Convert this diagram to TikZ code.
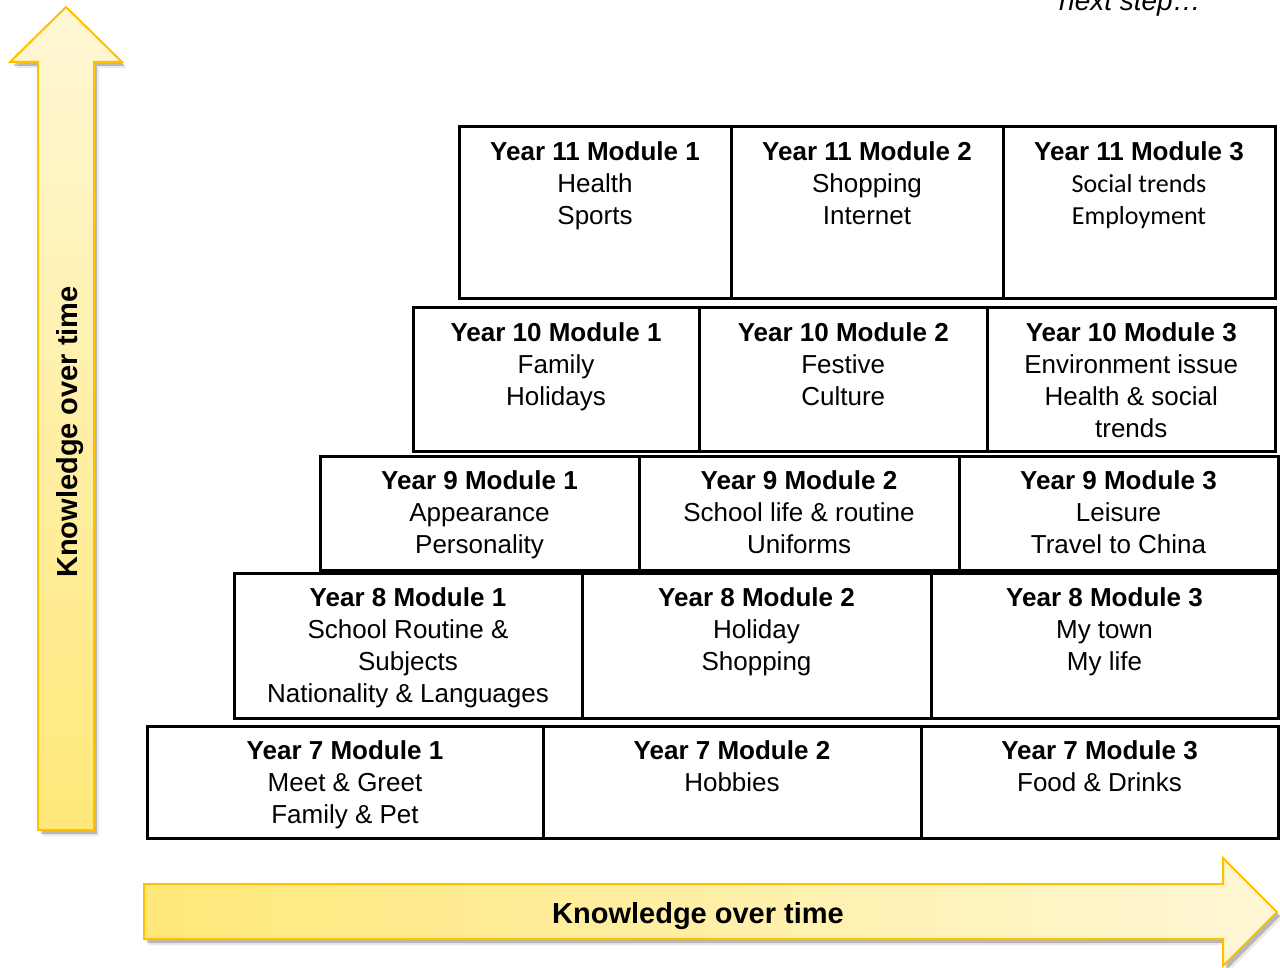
\documentclass[tikz,border=0pt]{standalone}
\usepackage{fontspec}
\setmainfont{Liberation Sans}
\newfontfamily\calib{Carlito}
\usetikzlibrary{positioning}
\definecolor{arrowedge}{HTML}{FFC000}
\definecolor{arrowdark}{HTML}{FFE878}
\definecolor{arrowlight}{HTML}{FFF7D6}
\newcommand{\ttl}[1]{\rule{0pt}{24pt}\textbf{#1}}
\begin{document}
\begin{tikzpicture}[x=1pt,y=-1pt,
  cell/.style={draw=black, line width=3pt, rectangle, inner sep=0pt, anchor=north west},
  txt/.style={inner sep=0pt, align=center, font=\fontsize{26}{32}\selectfont},
  arrowtxt/.style={font=\bfseries\fontsize{29}{34}\selectfont, inner sep=0pt},
  arrowshape/.style={draw=arrowedge, line width=2pt, line join=miter},
  shadowshape/.style={fill=black, opacity=0.22},
  softshadow/.style={fill=black, opacity=0.08}]
\useasboundingbox (0,0) rectangle (1280,968);

% vertical arrow
\fill[softshadow, shift={(5,6)}] (38,830) -- (38,62) -- (10,62) -- (66,7) -- (122,62) -- (94,62) -- (94,830) -- cycle;
\fill[shadowshape, shift={(3,4)}] (38,830) -- (38,62) -- (10,62) -- (66,7) -- (122,62) -- (94,62) -- (94,830) -- cycle;
\path[arrowshape, top color=arrowlight, bottom color=arrowdark] (38,830) -- (38,62) -- (10,62) -- (66,7) -- (122,62) -- (94,62) -- (94,830) -- cycle;
\node[arrowtxt, rotate=90, anchor=base] (vlabel) at (77,432) {Knowledge over time};

% horizontal arrow
\fill[softshadow, shift={(5,6)}] (144,884) -- (1223,884) -- (1223,858) -- (1277,912) -- (1223,966) -- (1223,939) -- (144,939) -- cycle;
\fill[shadowshape, shift={(3,4)}] (144,884) -- (1223,884) -- (1223,858) -- (1277,912) -- (1223,966) -- (1223,939) -- (144,939) -- cycle;
\path[arrowshape, left color=arrowdark, right color=arrowlight] (144,884) -- (1223,884) -- (1223,858) -- (1277,912) -- (1223,966) -- (1223,939) -- (144,939) -- cycle;
\node[arrowtxt, anchor=base] (hlabel) at (698,923) {Knowledge over time};

% next step
\node[anchor=base, inner sep=0pt, font=\itshape\fontsize{28}{34}\selectfont] (next) at (1130,11) {next step…};

% Row Year 11
\node[cell, minimum width=272pt, minimum height=172pt] (r11a) at (457.5,125.5) {};
\node[cell, minimum width=272pt, minimum height=172pt] (r11b) at (729.5,125.5) {};
\node[cell, minimum width=272pt, minimum height=172pt] (r11c) at (1001.5,125.5) {};
\node[txt, below=10.5pt of r11a.north] (t11a) {\ttl{Year 11 Module 1}\\Health\\Sports};
\node[txt, below=10.5pt of r11b.north] (t11b) {\ttl{Year 11 Module 2}\\Shopping\\Internet};
\node[txt, below=10.5pt of r11c.north] (t11c) {\ttl{Year 11 Module 3}\\{\calib Social trends}\\{\calib Employment}};

% Row Year 10
\node[cell, minimum width=286pt, minimum height=143.5pt] (r10a) at (411.5,306.5) {};
\node[cell, minimum width=288.5pt, minimum height=143.5pt] (r10b) at (697.5,306.5) {};
\node[cell, minimum width=287.5pt, minimum height=143.5pt] (r10c) at (986,306.5) {};
\node[txt, below=10.5pt of r10a.north] (t10a) {\ttl{Year 10 Module 1}\\Family\\Holidays};
\node[txt, below=10.5pt of r10b.north] (t10b) {\ttl{Year 10 Module 2}\\Festive\\Culture};
\node[txt, below=10.5pt of r10c.north] (t10c) {\ttl{Year 10 Module 3}\\Environment issue\\Health \& social\\trends};

% Row Year 9
\node[cell, minimum width=319pt, minimum height=113.5pt] (r9a) at (318.5,455) {};
\node[cell, minimum width=320pt, minimum height=113.5pt] (r9b) at (637.5,455) {};
\node[cell, minimum width=319pt, minimum height=113.5pt] (r9c) at (957.5,455) {};
\node[txt, below=10.5pt of r9a.north] (t9a) {\ttl{Year 9 Module 1}\\Appearance\\Personality};
\node[txt, below=10.5pt of r9b.north] (t9b) {\ttl{Year 9 Module 2}\\School life \& routine\\Uniforms};
\node[txt, below=10.5pt of r9c.north] (t9c) {\ttl{Year 9 Module 3}\\Leisure\\Travel to China};

% Row Year 8
\node[cell, minimum width=348pt, minimum height=144.5pt] (r8a) at (232.5,572) {};
\node[cell, minimum width=349pt, minimum height=144.5pt] (r8b) at (580.5,572) {};
\node[cell, minimum width=347pt, minimum height=144.5pt] (r8c) at (929.5,572) {};
\node[txt, below=10.5pt of r8a.north] (t8a) {\ttl{Year 8 Module 1}\\School Routine \&\\Subjects\\Nationality \& Languages};
\node[txt, below=10.5pt of r8b.north] (t8b) {\ttl{Year 8 Module 2}\\Holiday\\Shopping};
\node[txt, below=10.5pt of r8c.north] (t8c) {\ttl{Year 8 Module 3}\\My town\\My life};

% Row Year 7
\node[cell, minimum width=396pt, minimum height=112.5pt] (r7a) at (145.5,724.5) {};
\node[cell, minimum width=378pt, minimum height=112.5pt] (r7b) at (541.5,724.5) {};
\node[cell, minimum width=357pt, minimum height=112.5pt] (r7c) at (919.5,724.5) {};
\node[txt, below=10.5pt of r7a.north] (t7a) {\ttl{Year 7 Module 1}\\Meet \& Greet\\Family \& Pet};
\node[txt, below=10.5pt of r7b.north] (t7b) {\ttl{Year 7 Module 2}\\Hobbies};
\node[txt, below=10.5pt of r7c.north] (t7c) {\ttl{Year 7 Module 3}\\Food \& Drinks};
\end{tikzpicture}
\end{document}
